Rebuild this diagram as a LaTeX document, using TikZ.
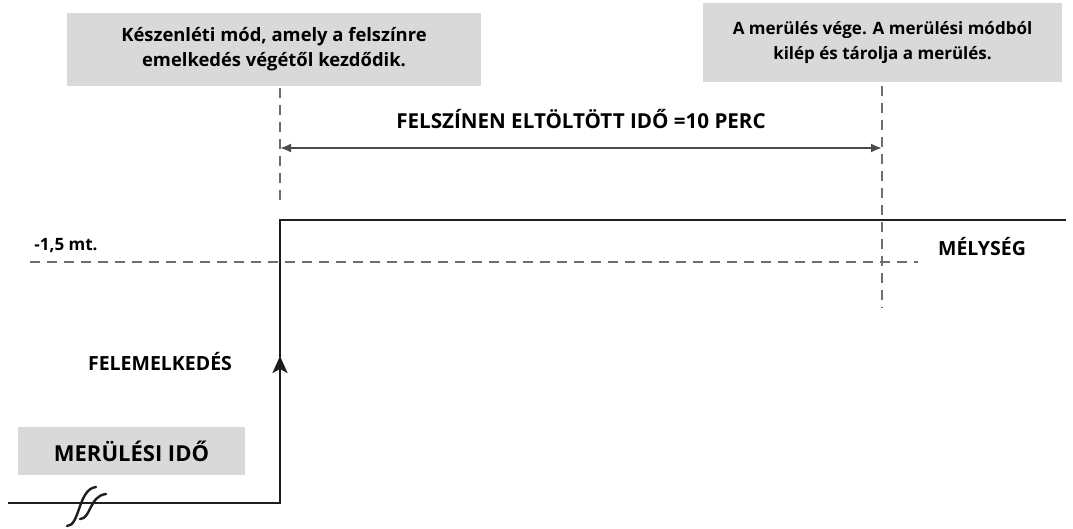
\documentclass[tikz,border=0pt]{standalone}
\usepackage{fontspec}
\setmainfont{Open Sans}
\usetikzlibrary{arrows.meta,positioning}
\definecolor{boxgray}{RGB}{217,217,217}
\definecolor{guidegray}{RGB}{110,110,110}
\definecolor{linedark}{RGB}{30,30,30}
\tikzset{
    % Grey note boxes
    infobox/.style={
        rectangle, fill=boxgray, draw=none, align=center,
        font=\fontsize{17.5}{25}\selectfont\bfseries, inner sep=0pt
    },
    % Plain bold labels
    plainlabel/.style={
        draw=none, fill=white, inner sep=2pt,
        font=\fontsize{19.5}{22}\selectfont\bfseries
    },
    % Dashed guide lines
    guide/.style={
        draw=guidegray, line width=1.3pt, dash pattern=on 10pt off 7pt
    },
    % Depth profile
    profile/.style={
        draw=linedark, line width=2.6pt, line join=miter
    },
    % Dimension arrow
    dimline/.style={
        {Latex[length=11pt,width=9pt]}-{Latex[length=11pt,width=9pt]},
        draw=linedark!80, line width=2pt
    },
    % Break mark curves
    breakmark/.style={
        draw=linedark, line width=2.4pt, line cap=round
    }
}
\begin{document}
\begin{tikzpicture}[x=1pt,y=-1pt]
\useasboundingbox[fill=white] (0,0) rectangle (1073,528);

% Notes at the top
\node[infobox, minimum width=414pt, minimum height=73pt,
      font=\fontsize{18.4}{25}\selectfont\bfseries] (standby) at (274,49.5)
    {Készenléti mód, amely a felszínre\\emelkedés végétől kezdődik.};
\node[infobox, minimum width=359pt, minimum height=79pt,
      font=\fontsize{17}{25}\selectfont\bfseries] (diveend) at (882.5,42.5)
    {A merülés vége. A merülési módból\\kilép és tárolja a merülés.};

% Profile points
\coordinate (start) at (8,503);
\coordinate (bottom) at (280,503);
\coordinate (surface) at (280,220);
\coordinate (lineend) at (1066,220);
\coordinate (exit) at (882,308);

% Guides
\draw[guide] (standby.south -| surface) ++(0,2) -- (280,205);
\draw[guide] (diveend.south -| exit) ++(0,4) -- (exit);
\draw[guide] (30,262) -- (918,262);
\node[font=\fontsize{17}{19}\selectfont\bfseries] (depthval) at (66,246) {-1,5 mt.};

% Surface time
\draw[dimline] (280,148) -- (882,148)
    node[midway, above=15pt, font=\fontsize{20.6}{24}\selectfont\bfseries] (surftime)
    {FELSZÍNEN ELTÖLTÖTT IDŐ =10 PERC};

% Depth profile
\draw[profile] (start) -- (bottom) -- (surface) -- (lineend);
\draw[draw=linedark, line width=2.6pt, -{Stealth[length=17pt,width=15pt,inset=4pt]}]
    (bottom) -- (280,356);

% Break mark on the dive time
\draw[breakmark] (67,526) .. controls (80,526) and (78,489) .. (96,487);
\draw[breakmark] (80,519) .. controls (91,519) and (89,496) .. (106,494);

% Labels
\node[plainlabel] (depth) at (982,247) {MÉLYSÉG};
\node[plainlabel] (ascent) at (160,362) {FELEMELKEDÉS};
\node[infobox, minimum width=227pt, minimum height=48pt,
      font=\fontsize{22}{25}\selectfont\bfseries] (divetime) at (131.5,451) {MERÜLÉSI IDŐ};

\end{tikzpicture}
\end{document}
